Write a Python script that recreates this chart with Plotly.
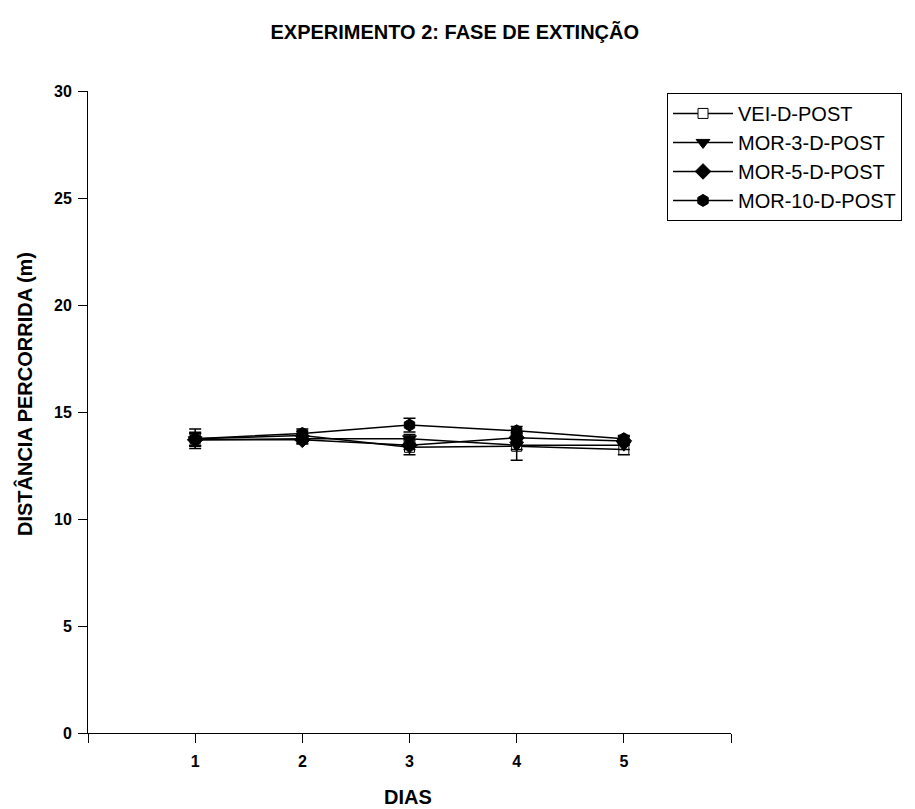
import plotly.graph_objects as go

days = [1, 2, 3, 4, 5]
series_names = ["VEI-D-POST", "MOR-3-D-POST", "MOR-5-D-POST", "MOR-10-D-POST"]
vei = [13.75, 13.9, 13.35, 13.4, 13.25]
mor3 = [13.7, 13.75, 13.75, 13.45, 13.45]
mor5 = [13.7, 13.7, 13.45, 13.8, 13.65]
mor10 = [13.75, 14.0, 14.39, 14.12, 13.75]
vei_err = [0.45, 0.2, 0.35, 0.65, 0.25]
mor3_err = [0.3, 0.2, 0.2, 0.2, 0.2]
mor5_err = [0.3, 0.2, 0.2, 0.2, 0.2]
mor10_err = [0.3, 0.2, 0.32, 0.2, 0.15]
y_ticks = [0, 5, 10, 15, 20, 25, 30]

symbols = ["square", "triangle-down", "diamond", "hexagon"]
fills = ["white", "black", "black", "black"]
values = [vei, mor3, mor5, mor10]
errs = [vei_err, mor3_err, mor5_err, mor10_err]

FONT = "Arial, 'Liberation Sans', sans-serif"

fig = go.Figure()
for name, v, e, s, f in zip(series_names, values, errs, symbols, fills):
    fig.add_trace(go.Scatter(
        x=days, y=v, name=name, mode="lines+markers",
        line=dict(color="black", width=1.5),
        marker=dict(symbol=s, size=12 if s != "square" else 10, color=f,
                    line=dict(color="black", width=1)),
        error_y=dict(type="data", array=e, color="black", thickness=1.5, width=6),
        cliponaxis=False,
    ))

fig.update_layout(
    width=915, height=809,
    paper_bgcolor="white", plot_bgcolor="white",
    margin=dict(l=88, r=184, t=91, b=76, autoexpand=False),
    font=dict(family=FONT, color="black"),
    title=dict(text="<b>EXPERIMENTO 2: FASE DE EXTINÇÃO</b>", x=0.497, xanchor="center",
               y=0.96, yanchor="middle", font=dict(size=20)),
    showlegend=True,
    legend=dict(x=0.9005, y=0.997, xanchor="left", yanchor="top",
                bordercolor="black", borderwidth=1, bgcolor="white",
                font=dict(size=20), tracegroupgap=0, itemsizing="trace",
                itemwidth=60),
    xaxis=dict(range=[0, 6], tickvals=[0, 1, 2, 3, 4, 5, 6],
               ticktext=["", "<b>1</b>", "<b>2</b>", "<b>3</b>", "<b>4</b>", "<b>5</b>", ""],
               showline=True, linecolor="black", linewidth=1, ticks="outside",
               ticklen=9, tickcolor="black", showgrid=False, zeroline=False,
               tickfont=dict(size=16), ticklabelstandoff=5),
    yaxis=dict(range=[0, 30], tickvals=y_ticks,
               ticktext=[f"<b>{t}</b>" for t in y_ticks],
               showline=True, linecolor="black", linewidth=1, ticks="outside",
               ticklen=9, tickcolor="black", showgrid=False, zeroline=False,
               tickfont=dict(size=16), ticklabelstandoff=3),
    annotations=[
        dict(text="<b>DISTÂNCIA PERCORRIDA (m)</b>", xref="paper", yref="paper",
             x=-0.0995, y=0.528, xanchor="center", yanchor="middle",
             textangle=-90, showarrow=False, font=dict(size=20)),
        dict(text="<b>DIAS</b>", xref="paper", yref="paper",
             x=0.4977, y=-0.1, xanchor="center", yanchor="middle",
             showarrow=False, font=dict(size=20)),
    ],
)
fig.write_html("out.html")
